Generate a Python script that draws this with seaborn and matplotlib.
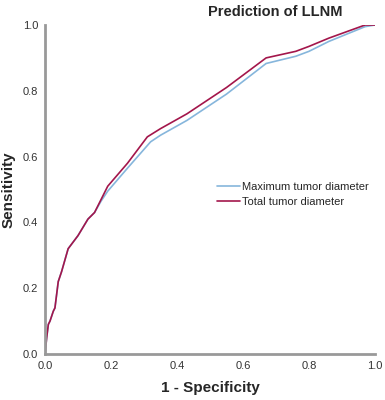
import pandas as pd
import matplotlib
matplotlib.use("Agg")
import matplotlib.pyplot as plt
import seaborn as sns

# ROC points
fpr_max = [0, 0.005, 0.01, 0.015, 0.025, 0.03, 0.04, 0.05, 0.07, 0.10, 0.13, 0.15, 0.17,
           0.19, 0.25, 0.32, 0.35, 0.43, 0.55, 0.67, 0.76, 0.80, 0.86, 0.97, 1.0]
tpr_max = [0, 0.05, 0.09, 0.10, 0.13, 0.14, 0.22, 0.25, 0.32, 0.36, 0.41, 0.43, 0.465,
           0.495, 0.565, 0.645, 0.665, 0.71, 0.79, 0.883, 0.905, 0.92, 0.95, 0.995, 1.0]

fpr_total = [0, 0.005, 0.01, 0.015, 0.025, 0.03, 0.04, 0.05, 0.07, 0.10, 0.13, 0.15, 0.17,
             0.19, 0.25, 0.31, 0.35, 0.43, 0.55, 0.67, 0.76, 0.80, 0.86, 0.97, 1.0]
tpr_total = [0, 0.05, 0.09, 0.10, 0.13, 0.14, 0.22, 0.25, 0.32, 0.36, 0.41, 0.43, 0.47,
             0.51, 0.58, 0.66, 0.685, 0.73, 0.81, 0.90, 0.92, 0.935, 0.96, 1.0, 1.0]

series_names = ["Maximum tumor diameter", "Total tumor diameter"]
colors = ["#86b6dc", "#a3164b"]

df = pd.concat([
    pd.DataFrame({"fpr": fpr_max, "tpr": tpr_max, "curve": series_names[0]}),
    pd.DataFrame({"fpr": fpr_total, "tpr": tpr_total, "curve": series_names[1]}),
])

sns.set_style("white")
plt.rcParams["font.family"] = ["Liberation Sans", "DejaVu Sans"]

fig = plt.figure(figsize=(3.85, 4.0), dpi=100)
ax = fig.add_axes([0.117, 0.115, 0.857, 0.8225])

sns.lineplot(data=df, x="fpr", y="tpr", hue="curve", palette=colors,
             sort=False, estimator=None, linewidth=1.2, ax=ax)

ax.set_xlim(0, 1.0)
ax.set_ylim(0, 1.0)
ax.set_xticks([0.0, 0.2, 0.4, 0.6, 0.8, 1.0])
ax.set_yticks([0.0, 0.2, 0.4, 0.6, 0.8, 1.0])
ax.xaxis.set_major_formatter(matplotlib.ticker.FormatStrFormatter("%.1f"))
ax.yaxis.set_major_formatter(matplotlib.ticker.FormatStrFormatter("%.1f"))
ax.tick_params(length=0, labelsize=8, colors="#333333", pad=5)

for side in ["top", "right"]:
    ax.spines[side].set_visible(False)
for side in ["left", "bottom"]:
    ax.spines[side].set_color("#999999")
    ax.spines[side].set_linewidth(2)

ax.set_xlabel("1 - Specificity", fontsize=11, fontweight="bold", labelpad=7)
ax.set_ylabel("Sensitivity", fontsize=11, fontweight="bold", labelpad=5)
fig.text(0.714, 0.97, "Prediction of LLNM", ha="center", va="center",
         fontsize=10.5, fontweight="bold")

ax.legend(title=None, frameon=False, loc="center left", bbox_to_anchor=(0.52, 0.486),
          borderaxespad=0, borderpad=0, fontsize=8, handlelength=2.1,
          handletextpad=0.2, labelspacing=0.45)

fig.savefig("out.png", dpi=100)
